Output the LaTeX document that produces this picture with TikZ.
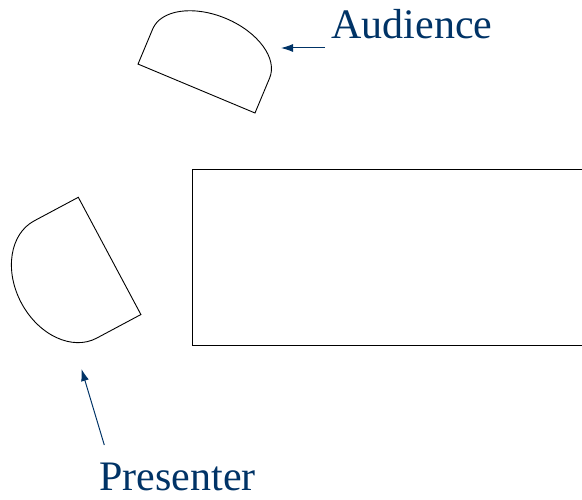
\documentclass[tikz,border=0pt]{standalone}
\usepackage{fontspec}
\setmainfont{Liberation Serif}
\usepackage{tikz}
\usetikzlibrary{arrows.meta}
\definecolor{navy}{RGB}{0,51,102}

\begin{document}
\begin{tikzpicture}[x=1pt, y=1pt, line width=0.9pt,
		pointer/.style = {navy, line width=1pt, -{Latex[length=12pt,width=8pt]}},
		label/.style = {navy, inner sep=0pt, anchor=base west, font=\fontsize{42}{50}\selectfont}
		]
		\useasboundingbox (0,0) rectangle (582,499);
		% table, running off to the right
		\draw (582,330) -- (192,330) -- (192,154) -- (582,154);
		% audience chair
		\begin{scope}[shift={(255,386)}, rotate=67.3]
			\draw (0,0) -- (38,0) arc[start angle=-90, end angle=90, x radius=38, y radius=63.4] -- (0,126.8) -- cycle;
		\end{scope}
		% presenter chair
		\begin{scope}[shift={(78.3,301.7)}, rotate=208.1]
			\draw (0,0) -- (50,0) arc[start angle=-90, end angle=90, x radius=50, y radius=66.45] -- (0,132.9) -- cycle;
		\end{scope}
		\node[label] (audience) at (331,460) {Audience};
		\node[label] (presenter) at (99,9) {Presenter};
		\coordinate (audtail) at (325,451);
		\coordinate (audtip) at (281,451);
		\coordinate (pretail) at (104.3,54);
		\coordinate (pretip) at (81.5,130);
		\draw[pointer] (audtail) -- (audtip);
		\draw[pointer] (pretail) -- (pretip);
\end{tikzpicture}
\end{document}
